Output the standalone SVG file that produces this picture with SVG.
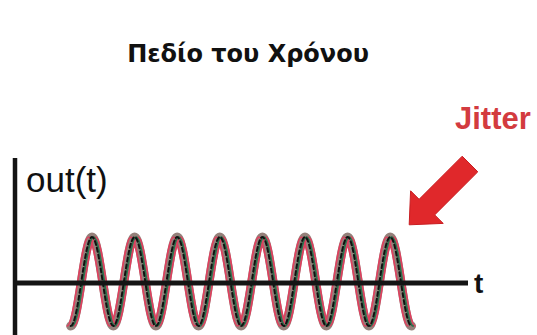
<svg xmlns="http://www.w3.org/2000/svg" xmlns:xlink="http://www.w3.org/1999/xlink" width="537" height="335" viewBox="0 0 537 335">
<style>
.title{font-family:"DejaVu Sans",sans-serif;font-size:24px;font-weight:bold;fill:#111}
.lbl{font-family:"Liberation Sans",Arial,sans-serif;fill:#111}
.jit{font-family:"Liberation Sans",Arial,sans-serif;font-weight:bold;font-size:31px;fill:#d33b3f}
.axis{stroke:#141414;stroke-linecap:butt;fill:none}
.w{fill:none;stroke-linecap:round}
</style>
<defs>
<path id="wave" d="M 70.7 326 C 78.46 326, 84.24 237, 92 237 S 105.54 326, 113.3 326 S 126.84 237, 134.6 237 S 148.14 326, 155.9 326 S 169.44 237, 177.2 237 S 190.74 326, 198.5 326 S 212.04 237, 219.8 237 S 233.34 326, 241.1 326 S 254.64 237, 262.4 237 S 275.94 326, 283.7 326 S 297.24 237, 305 237 S 318.54 326, 326.3 326 S 339.84 237, 347.6 237 S 361.14 326, 368.9 326 S 382.44 237, 390.2 237 S 403.74 326, 411.5 326"/>
</defs>
<rect width="537" height="335" fill="#ffffff"/>
<g id="title"><text class="title" x="248" y="62" text-anchor="middle">Πεδίο του Χρόνου</text></g>
<g id="signal">
<use xlink:href="#wave" class="w" stroke="#94807a" stroke-width="9"/>
<use xlink:href="#wave" class="w" stroke="#e0405f" stroke-width="1.6" transform="translate(-3.6,0)"/>
<use xlink:href="#wave" class="w" stroke="#e0405f" stroke-width="1.6" transform="translate(3.6,0)"/>
<use xlink:href="#wave" class="w" stroke="#2e6e4c" stroke-width="2" transform="translate(1.5,0)"/>
<use xlink:href="#wave" class="w" stroke="#111" stroke-width="2" stroke-dasharray="4 3" stroke-linecap="butt"/>
</g>
<g id="axes">
<line class="axis" x1="15" y1="158" x2="15" y2="335" stroke-width="4.5"/>
<line class="axis" x1="13" y1="283" x2="468" y2="283" stroke-width="5"/>
<text class="lbl" x="26" y="192" font-size="35">out(t)</text>
<text class="lbl" x="474" y="293" font-size="28" font-weight="bold">t</text>
</g>
<g id="jitter">
<text class="jit" x="455" y="129">Jitter</text>
<polygon points="462.2,156.2 477.8,171.8 434.7,214.9 443.2,223.4 409.2,224.8 410.6,190.8 419.1,199.3" fill="#e0282b" stroke="#c81e22" stroke-width="1"/>
</g>
</svg>
